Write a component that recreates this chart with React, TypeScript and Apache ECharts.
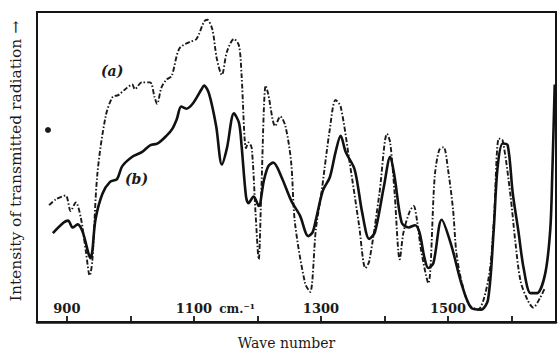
import React, { useEffect, useRef } from "react";
import * as echarts from "echarts";

// Curve (a): dash-dot
const waveA = [872, 883, 898, 906, 914, 922, 930, 936, 940, 948, 961, 972, 981, 992, 1003, 1007, 1018, 1031, 1038, 1042, 1049, 1057, 1065, 1077, 1093, 1104, 1116, 1121, 1129, 1136, 1144, 1152, 1163, 1171, 1175, 1182, 1186, 1191, 1197, 1202, 1206, 1213, 1217, 1228, 1236, 1244, 1253, 1259, 1275, 1283, 1292, 1301, 1314, 1323, 1331, 1345, 1360, 1370, 1376, 1392, 1404, 1409, 1416, 1424, 1430, 1440, 1446, 1451, 1458, 1469, 1479, 1486, 1493, 1500, 1508, 1513, 1521, 1533, 1547, 1564, 1572, 1580, 1586, 1598, 1606, 1614, 1625, 1634, 1645, 1653];
const intensityA = [37.7, 39.6, 40.8, 35.8, 38.6, 33.6, 22.7, 15.0, 19.6, 47.7, 66.3, 72.6, 73.2, 75.1, 76.6, 75.1, 77.3, 77.3, 72.6, 70.4, 75.7, 78.2, 79.4, 88.2, 90.3, 91.3, 96.9, 97.5, 94.4, 85.0, 79.7, 87.2, 91.3, 89.1, 79.7, 56.1, 57.9, 56.1, 35.2, 20.2, 41.4, 76.3, 73.5, 63.2, 66.3, 63.2, 51.7, 32.1, 12.5, 9.7, 29.9, 42.1, 62.3, 71.6, 69.5, 51.7, 31.2, 17.4, 19.6, 41.4, 60.7, 57.9, 41.4, 20.2, 29.0, 35.8, 37.4, 33.0, 22.7, 12.5, 46.7, 55.4, 56.4, 49.2, 36.1, 22.7, 13.4, 5.6, 4.0, 14.3, 32.1, 59.2, 58.6, 41.4, 25.9, 13.4, 7.2, 4.7, 7.8, 11.2];

// Curve (b): solid
const waveB = [878, 895, 902, 909, 917, 925, 934, 937, 940, 945, 956, 968, 979, 987, 1003, 1018, 1031, 1043, 1057, 1066, 1073, 1080, 1088, 1098, 1112, 1116, 1124, 1135, 1144, 1152, 1163, 1171, 1175, 1182, 1186, 1194, 1202, 1210, 1217, 1225, 1238, 1253, 1267, 1280, 1287, 1292, 1303, 1314, 1323, 1331, 1339, 1353, 1365, 1376, 1385, 1399, 1409, 1416, 1427, 1438, 1448, 1455, 1463, 1469, 1477, 1490, 1505, 1521, 1536, 1552, 1563, 1572, 1578, 1586, 1594, 1602, 1611, 1619, 1630, 1640, 1653, 1661, 1664, 1668];
const intensityB = [28.7, 32.1, 32.7, 30.5, 31.5, 29.0, 22.1, 20.6, 22.7, 33.0, 41.4, 45.2, 46.1, 50.2, 53.3, 54.8, 57.0, 57.6, 60.1, 62.3, 65.4, 69.5, 68.8, 70.4, 75.1, 76.3, 73.5, 63.2, 50.8, 56.1, 67.3, 64.2, 57.0, 40.5, 38.3, 40.5, 37.4, 45.5, 50.2, 51.4, 46.7, 39.2, 34.3, 27.7, 29.0, 33.0, 42.4, 46.7, 54.8, 60.1, 54.8, 49.2, 35.2, 26.8, 29.0, 43.6, 53.3, 46.7, 32.1, 30.5, 31.2, 29.0, 20.6, 17.4, 19.0, 33.0, 24.9, 12.5, 4.7, 4.0, 7.2, 29.9, 49.8, 57.6, 57.0, 41.4, 29.0, 17.4, 9.3, 9.3, 15.6, 29.9, 46.7, 76.6];

const tickValues = [900, 1000, 1100, 1200, 1300, 1400, 1500, 1600];
const labelValues = [900, 1100, 1300, 1500];

const xTitle = "Wave number";
const yTitle = "Intensity of transmitted radiation \u2192";

export default function App() {
  const ref = useRef<HTMLDivElement>(null);
  useEffect(() => {
    if (!ref.current) return;
    const chart = echarts.init(ref.current, null, { renderer: "svg" });
    const serif = "'DejaVu Serif', 'Liberation Serif', serif";
    chart.setOption({
      animation: false,
      backgroundColor: "#ffffff",
      grid: {
        left: 31,
        right: 3,
        top: 12,
        bottom: 22,
        show: true,
        borderColor: "#151515",
        borderWidth: 2,
      },
      xAxis: {
        type: "value",
        min: 853,
        max: 1670,
        name: xTitle,
        nameLocation: "middle",
        nameGap: 10,
        nameTextStyle: { fontFamily: serif, fontSize: 14, color: "#1a1a1a", padding: [4, 0, 0, -20] },
        axisLine: { show: true, lineStyle: { color: "#151515", width: 2.5 } },
        axisTick: { show: true, inside: true, length: 6, customValues: tickValues, lineStyle: { color: "#151515", width: 1.8 } },
        splitLine: { show: false },
        axisLabel: {
          show: true,
          inside: true,
          margin: 7,
          customValues: labelValues,
          formatter: (v: number) => (v === 1100 ? "{pad|}{n|1100}{u| cm.\u207B\u00B9}" : "{n|" + v + "}"),
          rich: {
            n: { fontFamily: serif, fontWeight: "bold", fontSize: 13, color: "#1a1a1a" },
            u: { fontFamily: serif, fontWeight: "bold", fontSize: 12, color: "#1a1a1a", width: 46, align: "left" },
            pad: { width: 46 },
          },
        },
      },
      yAxis: {
        type: "value",
        min: 0,
        max: 100,
        name: yTitle,
        nameLocation: "middle",
        nameGap: 13,
        nameRotate: 90,
        nameTextStyle: { fontFamily: serif, fontSize: 15.5, color: "#1a1a1a", padding: [0, 0, 0, 12] },
        axisLine: { show: false },
        axisTick: { show: false },
        axisLabel: { show: false },
        splitLine: { show: false },
      },
      graphic: [
        { type: "text", left: 101, top: 64, style: { text: "(a)", font: "italic bold 14px " + serif, fill: "#1a1a1a" } },
        { type: "text", left: 125, top: 172, style: { text: "(b)", font: "italic bold 14px " + serif, fill: "#1a1a1a" } },
        { type: "circle", shape: { cx: 48, cy: 130, r: 3 }, style: { fill: "#1a1a1a" } },
      ],
      series: [
        {
          type: "line",
          name: "(a)",
          data: waveA.map((w, i) => [w, intensityA[i]]),
          showSymbol: false,
          smooth: 0.3,
          lineStyle: { color: "#1a1a1a", width: 1.9, type: [5, 2, 1.5, 2] },
        },
        {
          type: "line",
          name: "(b)",
          data: waveB.map((w, i) => [w, intensityB[i]]),
          showSymbol: false,
          smooth: 0.3,
          lineStyle: { color: "#111111", width: 2.6, type: "solid" },
        },
      ],
    });
    return () => chart.dispose();
  }, []);
  return (
    <div
      ref={ref}
      style={{ position: "absolute", left: 0, top: 0, width: 559, height: 355, background: "#fff" }}
    />
  );
}
